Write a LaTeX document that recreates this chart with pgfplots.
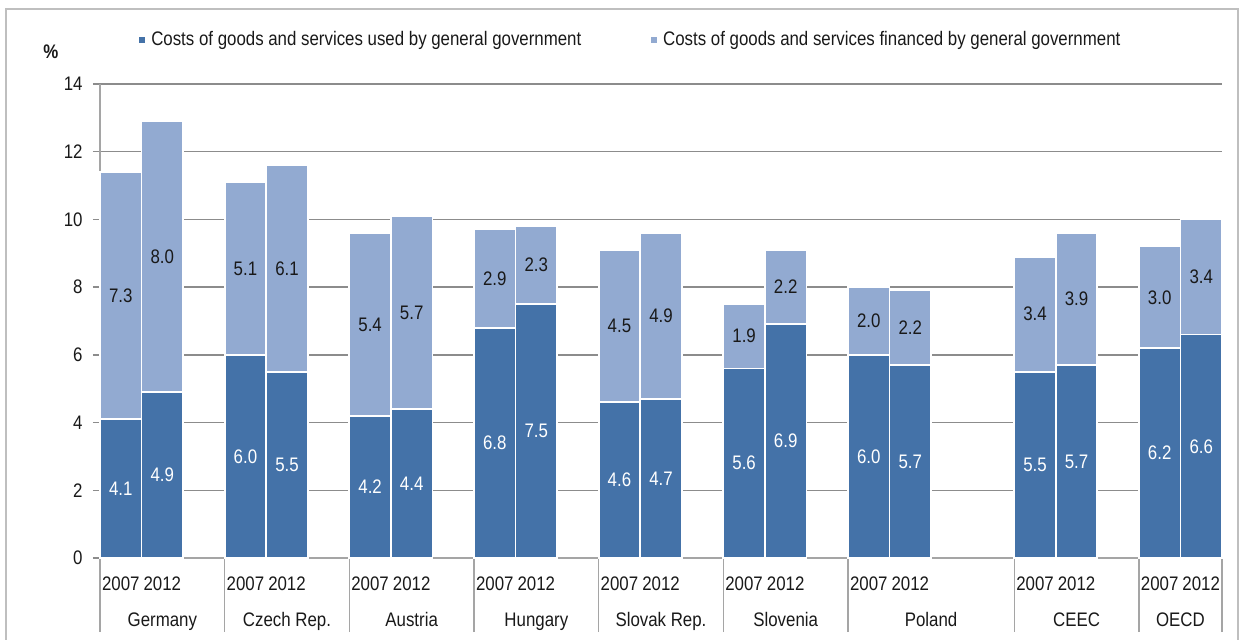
\documentclass[border=0pt]{standalone}
\usepackage{fontspec}
\setmainfont{Liberation Sans}[FakeStretch=0.86]
\usepackage{pgfplots}
\usepackage{pgfplotstable}
\pgfplotsset{compat=1.18}
\definecolor{barDark}{RGB}{68,114,168}
\definecolor{barLight}{RGB}{146,170,209}
\definecolor{gridGray}{RGB}{140,140,140}
\definecolor{axGray}{RGB}{165,165,165}
\definecolor{txt}{RGB}{25,25,25}

% used by general government (dark) and financed by general government (light)
\pgfplotstableread{
x     used  fin
0.5   4.1   7.3
1.5   4.9   8.0
3.5   6.0   5.1
4.5   5.5   6.1
6.5   4.2   5.4
7.5   4.4   5.7
9.5   6.8   2.9
10.5  7.5   2.3
12.5  4.6   4.5
13.5  4.7   4.9
15.5  5.6   1.9
16.5  6.9   2.2
18.5  6.0   2.0
19.5  5.7   2.2
22.5  5.5   3.4
23.5  5.7   3.9
25.5  6.2   3.0
26.5  6.6   3.4
}\bardata

% label positions (centre of each segment)
\pgfplotstableread{
x     y     l
0.5   2.05  4.1
1.5   2.45  4.9
3.5   3.0   6.0
4.5   2.75  5.5
6.5   2.1   4.2
7.5   2.2   4.4
9.5   3.4   6.8
10.5  3.75  7.5
12.5  2.3   4.6
13.5  2.35  4.7
15.5  2.8   5.6
16.5  3.45  6.9
18.5  3.0   6.0
19.5  2.85  5.7
22.5  2.75  5.5
23.5  2.85  5.7
25.5  3.1   6.2
26.5  3.3   6.6
}\darklabels

\pgfplotstableread{
x     y     l
0.5   7.75  7.3
1.5   8.9   8.0
3.5   8.55  5.1
4.5   8.55  6.1
6.5   6.9   5.4
7.5   7.25  5.7
9.5   8.25  2.9
10.5  8.65  2.3
12.5  6.85  4.5
13.5  7.15  4.9
15.5  6.55  1.9
16.5  8.0   2.2
18.5  7.0   2.0
19.5  6.8   2.2
22.5  7.2   3.4
23.5  7.65  3.9
25.5  7.7   3.0
26.5  8.3   3.4
}\lightlabels

\begin{document}
\fontsize{9.8pt}{11.8pt}\selectfont
\begin{tikzpicture}
\useasboundingbox (-50pt,-40.5pt) rectangle (570.5pt,279pt);
\draw[gray!50, line width=0.9pt] (-47pt,-60pt) -- (-47pt,274.6pt) -- (569pt,274.6pt) -- (569pt,-60pt);
\begin{axis}[
  at={(0,0)}, anchor=south west,
  scale only axis, width=561pt, height=237pt,
  xmin=0, xmax=27, ymin=0, ymax=14,
  clip=false,
  ybar stacked, bar width=1,
  legend image code/.code={\fill[#1] (0pt,-2pt) rectangle (4pt,2pt);},
  axis lines*=left,
  axis line style={axGray, line width=0.7pt},
  ymajorgrids, grid style={gridGray, line width=0.7pt},
  ytick={0,2,...,14},
  tick align=outside, major tick length=3.5pt, minor tick length=37pt,
  ytick style={gridGray, line width=0.7pt},
  major x tick style={draw=none},
  minor x tick style={axGray, line width=0.7pt},
  xtick={0.5,1.5,3.5,4.5,6.5,7.5,9.5,10.5,12.5,13.5,15.5,16.5,18.5,19.5,22.5,23.5,25.5,26.5},
  xticklabels={2007,2012,2007,2012,2007,2012,2007,2012,2007,2012,2007,2012,2007,2012,2007,2012,2007,2012},
  minor xtick={0,3,6,9,12,15,18,22,25,27},
  extra x ticks={1.5,4.5,7.5,10.5,13.5,16.5,20,23.5,26},
  extra x tick labels={Germany,Czech Rep.,Austria,Hungary,Slovak Rep.,Slovenia,Poland,CEEC,OECD},
  extra x tick style={tick style={draw=none}, xticklabel style={yshift=-18pt}},
  xticklabel style={anchor=base, inner sep=0pt, yshift=-12.5pt, text=txt},
  yticklabel style={anchor=east, inner sep=0pt, xshift=-5pt, text=txt},
  /pgf/number format/assume math mode=true,
  legend style={draw=none, fill=none, at={(0.0277,1.0928)}, anchor=west,
    legend columns=2, /tikz/every even column/.append style={column sep=32pt},
    text=txt, cells={anchor=west}},
]
\addplot[fill=barDark, draw=white, line width=0.9pt] table[x=x, y=used] {\bardata};
\addlegendentry{Costs of goods and services used by general government}
\addplot[fill=barLight, draw=white, line width=0.9pt] table[x=x, y=fin] {\bardata};
\addlegendentry{Costs of goods and services financed by general government}
\node[font=\bfseries, text=txt] at (axis description cs:-0.0437,1.0675) {\%};
\end{axis}
\begin{axis}[
  at={(0,0)}, anchor=south west,
  scale only axis, width=561pt, height=237pt,
  xmin=0, xmax=27, ymin=0, ymax=14,
  hide axis, clip=false,
]
\addplot[only marks, mark=*, mark size=0pt, mark options={draw=none, fill=none},
  nodes near coords, point meta=explicit symbolic, nodes near coords align={center},
  every node near coord/.append style={text=white, inner sep=0pt}]
  table[x=x, y=y, meta=l] {\darklabels};
\addplot[only marks, mark=*, mark size=0pt, mark options={draw=none, fill=none},
  nodes near coords, point meta=explicit symbolic, nodes near coords align={center},
  every node near coord/.append style={text=txt, inner sep=0pt}]
  table[x=x, y=y, meta=l] {\lightlabels};
\end{axis}
\end{tikzpicture}
\end{document}
